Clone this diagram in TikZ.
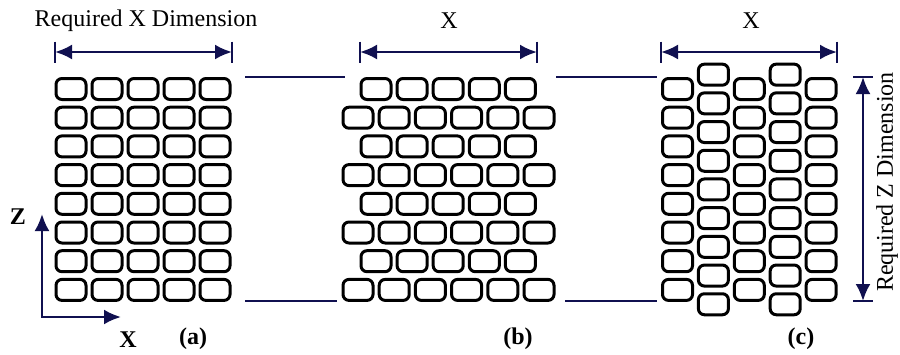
\documentclass[tikz,border=0pt]{standalone}
\usepackage{fontspec}
\setmainfont{Liberation Serif}
\usetikzlibrary{arrows.meta,positioning,calc}
\definecolor{dimnavy}{RGB}{16,16,80}

\begin{document}
\begin{tikzpicture}[x=0.5pt,y=-0.5pt,
    brick/.style={rectangle,draw=black,fill=white,line width=1.5pt,rounded corners=3pt,minimum width=15pt,minimum height=10.5pt,inner sep=0pt},
    dimline/.style={draw=dimnavy,line width=1.25pt},
    dimarrow/.style={dimline,{Latex[length=8.5pt,width=7.5pt]}-{Latex[length=8.5pt,width=7.5pt]}},
    lbl/.style={font=\fontsize{12}{14}\selectfont},
    tag/.style={font=\fontsize{12}{14}\selectfont\bfseries}]
    \useasboundingbox (0,0) rectangle (900,354);

    % Stacked columns (a)
    \foreach \r in {0,...,7} {
        \foreach \c in {0,...,4} {
            \node[brick] (a-\r-\c) at ({71+36*\c}, {89+28.7*\r}) {};
        }
    }

    % Running bond (b): short and long rows
    \foreach \r in {0,2,4,6} {
        \foreach \c in {0,...,4} {
            \node[brick] (b-\r-\c) at ({376+36.1*\c}, {89+28.7*\r}) {};
        }
    }
    \foreach \r in {1,3,5,7} {
        \foreach \c in {0,...,5} {
            \node[brick] (b-\r-\c) at ({358+36.2*\c}, {89+28.7*\r}) {};
        }
    }

    % Staggered columns (c)
    \foreach \c in {0,2,4} {
        \foreach \r in {0,...,7} {
            \node[brick] (c-\r-\c) at ({677.5+35.9*\c}, {89+28.7*\r}) {};
        }
    }
    \foreach \c in {1,3} {
        \foreach \r in {0,...,8} {
            \node[brick] (c-\r-\c) at ({677.5+35.9*\c}, {74.65+28.7*\r}) {};
        }
    }

    % X dimensions
    \coordinate (xa-l) at (55,52);  \coordinate (xa-r) at (232,52);
    \coordinate (xb-l) at (360,52); \coordinate (xb-r) at (537,52);
    \coordinate (xc-l) at (661,52); \coordinate (xc-r) at (837,52);
    \foreach \p in {xa,xb,xc} {
        \draw[dimline] (\p-l) ++(0,-10.5) -- ++(0,21);
        \draw[dimline] (\p-r) ++(0,-10.5) -- ++(0,21);
        \draw[dimarrow] (\p-l) -- (\p-r);
    }
    \node[lbl] (xdim) at (146,21) {Required X Dimension};
    \node[lbl] (xb-txt) at (449,21) {X};
    \node[lbl] (xc-txt) at (751,21) {X};

    % Z dimension
    \coordinate (z-top) at (863,77); \coordinate (z-bot) at (863,301);
    \draw[dimline] (z-top) ++(-10,0) -- ++(20,0);
    \draw[dimline] (z-bot) ++(-10,0) -- ++(20,0);
    \draw[dimarrow] (z-top) -- (z-bot);
    \node[lbl,rotate=90] (zdim) at (887,182) {Required Z Dimension};

    % equal height guides
    \draw[dimline] (245,77) -- (345,77);
    \draw[dimline] (245,301) -- (337,301);
    \draw[dimline] (556,77) -- (657,77);
    \draw[dimline] (565,301) -- (657,301);

    % axes
    \coordinate (origin) at (42,317);
    \coordinate (z-tip) at (42,214);
    \coordinate (x-tip) at (121,317);
    \draw[dimarrow] (z-tip) -- (origin) -- (x-tip);
    \node[tag] (z-txt) at (18,217) {Z};
    \node[tag] (x-txt) at (128,340) {X};

    % captions
    \node[tag] (cap-a) at (193,339) {(a)};
    \node[tag] (cap-b) at (518,339) {(b)};
    \node[tag] (cap-c) at (801,339) {(c)};
\end{tikzpicture}
\end{document}
